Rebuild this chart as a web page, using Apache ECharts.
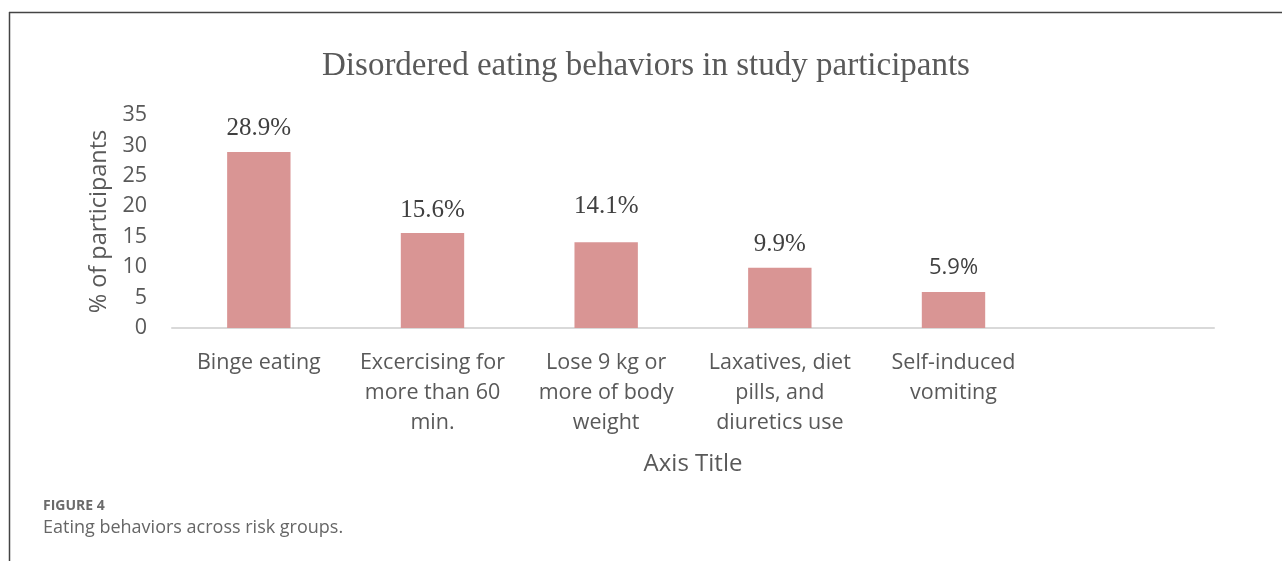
<!DOCTYPE html>
<html>
<head>
<meta charset="utf-8">
<script src="https://cdn.jsdelivr.net/npm/echarts@6/dist/echarts.min.js"></script>
<style>
  html, body { margin: 0; padding: 0; background: #fff; }
  #chart { width: 1282px; height: 561px; }
</style>
</head>
<body>
<div id="chart"></div>
<script>
// Categories (last slot is left empty on purpose)
const categories = [
  'Binge eating',
  'Excercising for\nmore than 60\nmin.',
  'Lose 9 kg or\nmore of body\nweight',
  'Laxatives, diet\npills, and\ndiuretics use',
  'Self-induced\nvomiting',
  ''
];
// Percent of participants per behaviour
const percentValues = [28.9, 15.6, 14.1, 9.9, 5.9, null];
const yTicks = [0, 5, 10, 15, 20, 25, 30, 35];

const titleText = 'Disordered eating behaviors in study participants';
const yAxisTitle = '% of participants';
const xAxisTitle = 'Axis Title';
const figureLabel = 'FIGURE 4';
const figureCaption = 'Eating behaviors across risk groups.';

// Per-bar label styling (font family, size and gap above the bar)
const serif = '"Liberation Serif", "Times New Roman", serif';
const sans = '"Open Sans", "Noto Sans", sans-serif';
const labelFonts = [serif, serif, serif, serif, sans, serif];
const labelSizes = [25, 25, 25, 25, 22, 25];
const labelGaps = [11, 10, 23, 11, 13, 11];

const barData = percentValues.map((v, i) => ({
  value: v,
  label: {
    fontFamily: labelFonts[i],
    fontSize: labelSizes[i],
    distance: labelGaps[i]
  }
}));

const chart = echarts.init(document.getElementById('chart'), null, { renderer: 'canvas' });
chart.setOption({
  animation: false,
  backgroundColor: '#ffffff',
  title: {
    text: titleText,
    left: 641,
    textAlign: 'center',
    top: 45,
    textStyle: {
      fontFamily: serif,
      fontSize: 33,
      fontWeight: 'normal',
      color: '#595959'
    }
  },
  grid: { left: 172, right: 68, top: 115, bottom: 233 },
  xAxis: {
    type: 'category',
    data: categories,
    name: xAxisTitle,
    nameLocation: 'middle',
    nameGap: 124,
    nameTextStyle: { fontFamily: sans, fontSize: 24, color: '#595959' },
    axisLine: { lineStyle: { color: '#d9d9d9', width: 2 } },
    axisTick: { show: false },
    axisLabel: {
      interval: 0,
      margin: 20,
      fontFamily: sans,
      fontSize: 21.5,
      lineHeight: 30,
      color: '#595959'
    }
  },
  yAxis: {
    type: 'value',
    min: yTicks[0],
    max: yTicks[yTicks.length - 1],
    interval: yTicks[1] - yTicks[0],
    name: yAxisTitle,
    nameLocation: 'middle',
    nameGap: 58,
    nameTextStyle: { fontFamily: sans, fontSize: 23.5, color: '#595959' },
    axisLine: { show: false },
    axisTick: { show: false },
    splitLine: { show: false },
    axisLabel: {
      margin: 25,
      padding: [4, 0, 0, 0],
      fontFamily: sans,
      fontSize: 21.5,
      color: '#595959'
    }
  },
  series: [{
    type: 'bar',
    data: barData,
    barWidth: '36.5%',
    itemStyle: { color: '#d99594' },
    label: {
      show: true,
      position: 'top',
      formatter: p => p.value.toFixed(1) + '%',
      color: '#404040'
    }
  }],
  graphic: [
    // figure frame: top rule and left rule
    { type: 'line', shape: { x1: 9, y1: 12.5, x2: 1282, y2: 12.5 }, style: { stroke: '#444', lineWidth: 1.5 } },
    { type: 'line', shape: { x1: 9.5, y1: 12, x2: 9.5, y2: 561 }, style: { stroke: '#444', lineWidth: 1.5 } },
    {
      type: 'text', left: 43, top: 499,
      style: { text: figureLabel, font: 'bold 14px "Open Sans", sans-serif', fill: '#6b6b6b' }
    },
    {
      type: 'text', left: 43, top: 519,
      style: { text: figureCaption, font: '18px "Open Sans", sans-serif', fill: '#666666' }
    }
  ]
});
</script>
</body>
</html>
